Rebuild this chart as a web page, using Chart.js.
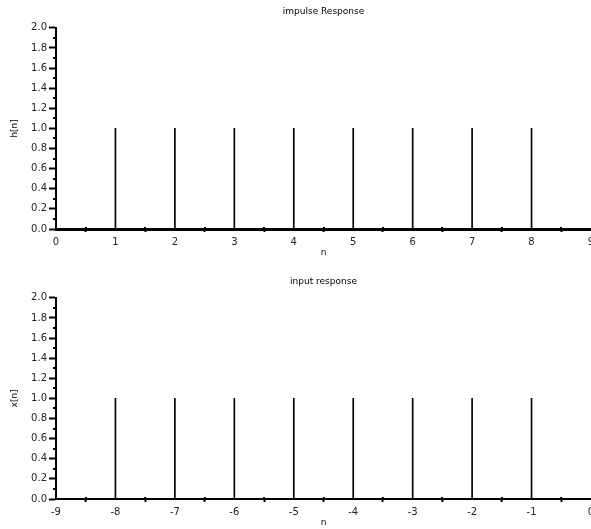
<!DOCTYPE html>
<html>
<head>
<meta charset="utf-8">
<script src="https://cdn.jsdelivr.net/npm/chart.js@4/dist/chart.umd.min.js"></script>
<style>
  html, body { margin: 0; padding: 0; background: #fff; }
  .wrap { position: absolute; left: 0; width: 591px; overflow: hidden; }
  canvas { display: block; }
</style>
</head>
<body>
<div class="wrap" style="top:0px; height:262px;"><canvas id="impulseChart" width="600" height="262"></canvas></div>
<div class="wrap" style="top:270px; height:259px;"><canvas id="inputChart" width="600" height="262"></canvas></div>
<script>
// sample indices and values
const nImpulse = [0, 1, 2, 3, 4, 5, 6, 7, 8, 9];
const hValues = [0, 1, 1, 1, 1, 1, 1, 1, 1, 0];
const nInput = [-9, -8, -7, -6, -5, -4, -3, -2, -1, 0];
const xValues = [0, 1, 1, 1, 1, 1, 1, 1, 1, 0];
const yRange = [0, 2];
const yStep = 0.2;

Chart.defaults.font.family = '"DejaVu Sans", sans-serif';
Chart.defaults.color = '#222';

// small ticks between the labelled ones
const minorTicks = {
    id: 'minorTicks',
    afterDraw(chart) {
        const ctx = chart.ctx;
        const xs = chart.scales.x, ys = chart.scales.y;
        ctx.save();
        ctx.strokeStyle = '#000';
        ctx.lineWidth = 2;
        for (let v = ys.min + yStep / 2; v < ys.max; v += yStep) {
            const py = Math.round(ys.getPixelForValue(v));
            ctx.beginPath();
            ctx.moveTo(ys.right - 3, py);
            ctx.lineTo(ys.right, py);
            ctx.stroke();
        }
        for (let v = xs.min + 0.5; v < xs.max; v += 1) {
            const px = Math.round(xs.getPixelForValue(v));
            ctx.beginPath();
            ctx.moveTo(px, xs.top - 2);
            ctx.lineTo(px, xs.top);
            ctx.stroke();
        }
        ctx.restore();
    }
};

function makeStemChart(canvasId, nVals, yVals, title, yTitle, axisWidth) {
    const ctx = document.getElementById(canvasId).getContext('2d');
    return new Chart(ctx, {
        type: 'bar',
        data: {
            datasets: [{
                data: nVals.map((n, i) => ({ x: n, y: yVals[i] })),
                backgroundColor: '#000',
                borderWidth: 0,
                barThickness: 1
            }]
        },
        options: {
            responsive: false,
            animation: false,
            layout: { padding: { left: 0, right: 9, top: 0, bottom: 0 } },
            plugins: {
                legend: { display: false },
                tooltip: { enabled: false },
                title: {
                    display: true,
                    text: title,
                    fullSize: false,
                    color: '#000',
                    font: { size: 9, weight: 'normal' },
                    padding: { top: 6, bottom: 11 }
                }
            },
            scales: {
                x: {
                    type: 'linear',
                    min: nVals[0],
                    max: nVals[nVals.length - 1],
                    offset: false,
                    afterFit: s => { s.height = 33; s.paddingLeft = 0; s.paddingRight = 0; },
                    border: { display: true, color: '#000', width: axisWidth },
                    grid: { drawOnChartArea: false, drawTicks: true, tickLength: 3, tickWidth: 2, tickColor: '#000' },
                    ticks: { stepSize: 1, padding: 4, maxRotation: 0, font: { size: 10 } },
                    title: { display: true, text: 'n', color: '#000', font: { size: 9 }, padding: { top: 0, bottom: 4 } }
                },
                y: {
                    min: yRange[0],
                    max: yRange[1],
                    afterFit: s => { s.width = 56; },
                    border: { display: true, color: '#000', width: 2 },
                    grid: { drawOnChartArea: false, drawTicks: true, tickLength: 7, tickWidth: 2, tickColor: '#000' },
                    ticks: { stepSize: yStep, padding: 2, font: { size: 10 }, callback: v => v.toFixed(1) },
                    title: { display: true, text: yTitle, color: '#000', font: { size: 9 }, padding: { top: 9, bottom: 0 } }
                }
            }
        },
        plugins: [minorTicks]
    });
}

makeStemChart('impulseChart', nImpulse, hValues, 'impulse Response', 'h[n]', 3);
makeStemChart('inputChart', nInput, xValues, 'input response', 'x[n]', 2);
</script>
</body>
</html>
